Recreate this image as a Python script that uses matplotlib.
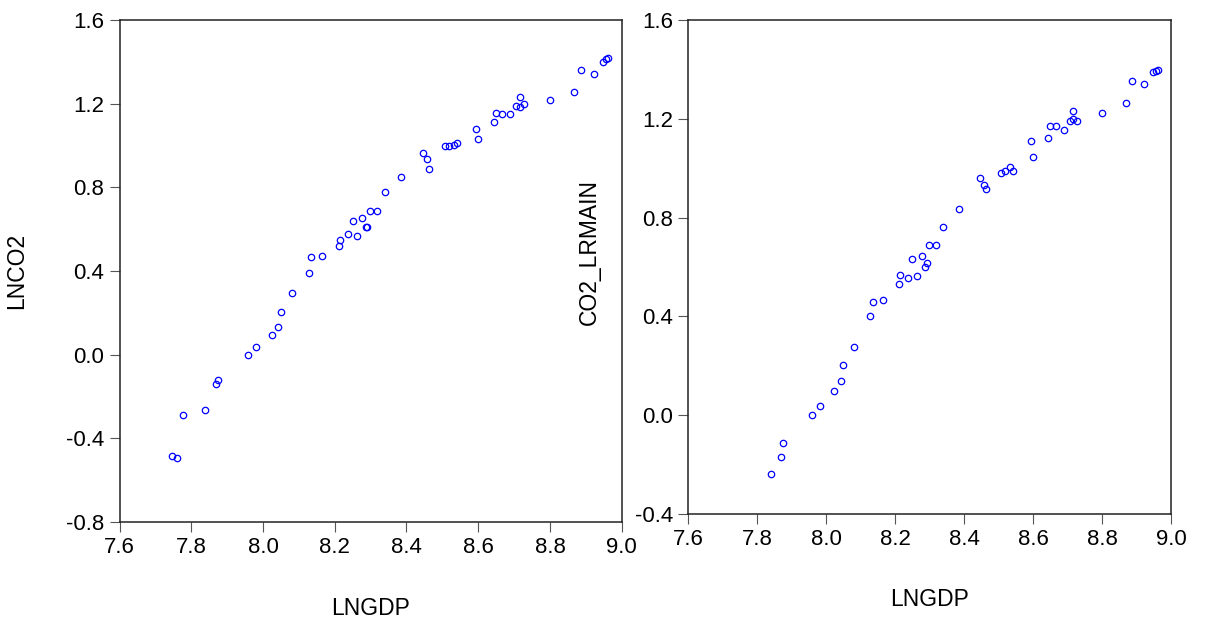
import numpy as np
import matplotlib
matplotlib.use('Agg')
import matplotlib.pyplot as plt

plt.rcParams['font.family'] = ['Liberation Sans', 'DejaVu Sans']

# LNGDP values (x), sorted
lngdp = [7.746, 7.759, 7.777, 7.839, 7.869, 7.875, 7.958, 7.981, 8.024, 8.042,
         8.049, 8.080, 8.127, 8.135, 8.165, 8.211, 8.215, 8.238, 8.250, 8.262,
         8.277, 8.287, 8.291, 8.298, 8.318, 8.339, 8.386, 8.446, 8.457, 8.462,
         8.507, 8.519, 8.533, 8.541, 8.595, 8.599, 8.643, 8.650, 8.666, 8.689,
         8.706, 8.716, 8.717, 8.727, 8.801, 8.868, 8.887, 8.923, 8.949, 8.955,
         8.963]

lnco2 = [-0.483, -0.492, -0.288, -0.264, -0.139, -0.121, -0.003, 0.035, 0.093, 0.134,
         0.206, 0.294, 0.391, 0.467, 0.470, 0.518, 0.548, 0.577, 0.639, 0.567,
         0.655, 0.612, 0.612, 0.688, 0.688, 0.776, 0.848, 0.966, 0.934, 0.886,
         0.998, 0.996, 1.001, 1.011, 1.079, 1.033, 1.112, 1.154, 1.152, 1.152,
         1.190, 1.186, 1.232, 1.200, 1.218, 1.254, 1.362, 1.340, 1.401, 1.412,
         1.420]

# fitted series only exists from the 4th observation on
co2_lrmain = [-0.238, -0.170, -0.114, 0.001, 0.038, 0.099, 0.140, 0.204, 0.277, 0.400,
              0.458, 0.466, 0.530, 0.566, 0.555, 0.632, 0.564, 0.643, 0.599, 0.616,
              0.689, 0.689, 0.763, 0.834, 0.959, 0.931, 0.917, 0.982, 0.989, 1.005,
              0.990, 1.111, 1.044, 1.122, 1.172, 1.172, 1.156, 1.190, 1.198, 1.233,
              1.191, 1.225, 1.263, 1.352, 1.342, 1.389, 1.392, 1.396]

x_ticks = [7.6, 7.8, 8.0, 8.2, 8.4, 8.6, 8.8, 9.0]
left_yticks = [-0.8, -0.4, 0.0, 0.4, 0.8, 1.2, 1.6]
right_yticks = [-0.4, 0.0, 0.4, 0.8, 1.2, 1.6]


def style(ax, yticks, ylabel):
    ax.set_xlim(7.6, 9.0)
    ax.set_ylim(yticks[0], yticks[-1])
    ax.set_xticks(x_ticks)
    ax.set_xticklabels(['%.1f' % v for v in x_ticks])
    ax.set_yticks(yticks)
    ax.set_yticklabels(['%.1f' % v for v in yticks])
    ax.tick_params(direction='out', length=7, width=0.8, color='#555555',
                   labelsize=16, pad=4)
    for s in ax.spines.values():
        s.set_linewidth(1.1)
        s.set_color('#222222')
    ax.set_xlabel('LNGDP', fontsize=16.5)
    ax.set_ylabel(ylabel, fontsize=16.5)


fig = plt.figure(figsize=(12.06, 6.24), dpi=100)

ax1 = fig.add_axes([0.0991, 0.1635, 0.4164, 0.8045])
ax1.plot(lngdp, lnco2, 'o', mfc='none', mec='blue', ms=4.6, mew=0.9)
style(ax1, left_yticks, 'LNCO2')
ax1.xaxis.set_label_coords(0.5, -0.149)
ax1.yaxis.set_label_coords(-0.182, 0.5)

ax2 = fig.add_axes([0.5707, 0.1763, 0.4003, 0.7917])
ax2.plot(lngdp[3:], co2_lrmain, 'o', mfc='none', mec='blue', ms=4.6, mew=0.9)
style(ax2, right_yticks, 'CO2_LRMAIN')
ax2.xaxis.set_label_coords(0.5, -0.150)
ax2.yaxis.set_label_coords(-0.181, 0.53)

fig.savefig('out.png', dpi=100)
